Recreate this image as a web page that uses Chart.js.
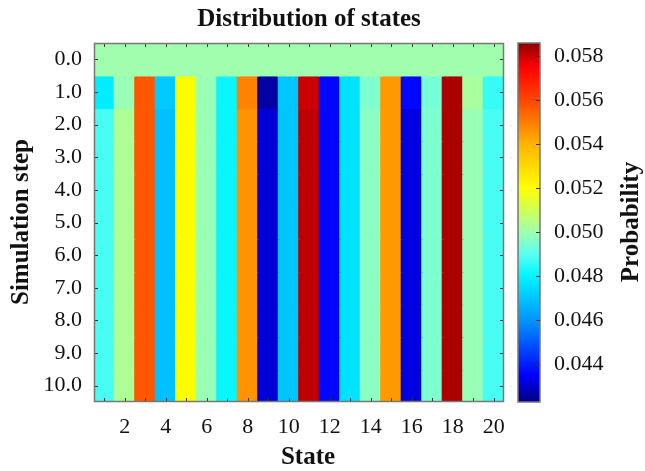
<!DOCTYPE html>
<html>
<head>
<meta charset="utf-8">
<script src="https://cdn.jsdelivr.net/npm/chart.js@4.4.1/dist/chart.umd.min.js"></script>
<style>
html, body { margin: 0; padding: 0; background: #fff; }
#wrap { position: relative; width: 645px; height: 471px; }
</style>
</head>
<body>
<div id="wrap"><canvas id="heat" width="645" height="471"></canvas></div>
<script>
// states on x, simulation steps on y
const states = ['1','2','3','4','5','6','7','8','9','10','11','12','13','14','15','16','17','18','19','20'];
const steps = [0, 1, 2, 3, 4, 5, 6, 7, 8, 9, 10];

// probability of each state, one array per step
const step0 = [0.0500,0.0500,0.0500,0.0500,0.0500,0.0500,0.0500,0.0500,0.0500,0.0500,0.0500,0.0500,0.0500,0.0500,0.0500,0.0500,0.0500,0.0500,0.0500,0.0500];
const step1 = [0.0478,0.0499,0.0557,0.0471,0.0521,0.0499,0.0481,0.0549,0.0426,0.0470,0.0580,0.0436,0.0476,0.0495,0.0545,0.0436,0.0494,0.0583,0.0502,0.0486];
const stepLate = [0.0488,0.0503,0.0557,0.0469,0.0521,0.0499,0.0481,0.0546,0.0431,0.0470,0.0581,0.0436,0.0476,0.0497,0.0545,0.0432,0.0495,0.0583,0.0499,0.0488];
const rows = [step0, step1, stepLate, stepLate, stepLate, stepLate, stepLate, stepLate, stepLate, stepLate, stepLate];

// colour bar range and labels
const cbMin = 0.04227;
const cbMax = 0.0586;
const cbTicks = [0.044, 0.046, 0.048, 0.050, 0.052, 0.054, 0.056, 0.058];

// colour map stops: value -> rgb
const cmapStops = [
    [0.04227, [0, 0, 130]],
    [0.0435, [0, 0, 255]],
    [0.0460, [0, 150, 255]],
    [0.0480, [0, 245, 255]],
    [0.0490, [90, 255, 240]],
    [0.0500, [160, 255, 175]],
    [0.0520, [255, 255, 0]],
    [0.0540, [255, 180, 0]],
    [0.0560, [255, 70, 0]],
    [0.0575, [255, 0, 0]],
    [0.0586, [140, 0, 0]]
];

function probColor(p) {
    if (p <= cmapStops[0][0]) return rgb(cmapStops[0][1]);
    for (let i = 1; i < cmapStops.length; i++) {
        const [v1, c1] = cmapStops[i];
        const [v0, c0] = cmapStops[i - 1];
        if (p <= v1) {
            const t = (p - v0) / (v1 - v0);
            return rgb([0, 1, 2].map(k => c0[k] + (c1[k] - c0[k]) * t));
        }
    }
    return rgb(cmapStops[cmapStops.length - 1][1]);
}

function rgb(c) {
    return `rgb(${Math.round(c[0])},${Math.round(c[1])},${Math.round(c[2])})`;
}

// axis boxes get fixed sizes and no label overflow padding
function fixBox(size) {
    return function (s) {
        if (s.isHorizontal()) s.height = size; else s.width = size;
        s.paddingTop = 0;
        s.paddingBottom = 0;
        s.paddingLeft = 0;
        s.paddingRight = 0;
    };
}

const serif = 'Liberation Serif, Times New Roman, serif';
const tickFont = { family: serif, size: 22 };

let datasets = [];
rows.forEach((row, s) => {
    datasets.push({
        label: 'step ' + steps[s],
        data: row.map(() => [steps[s] - 0.5, steps[s] + 0.5]),
        backgroundColor: row.map(probColor),
        borderWidth: 0,
        inflateAmount: 0.8,
        barPercentage: 1,
        categoryPercentage: 1,
        grouped: false,
        yAxisID: 'y'
    });
});

// frame, inward ticks, colour bar and titles
const decor = {
    id: 'decor',
    afterDraw(chart) {
        const c = chart.ctx;
        const a = chart.chartArea;
        const x = chart.scales.x;
        const y = chart.scales.y;
        const cb = chart.scales.cb;
        c.save();

        c.strokeStyle = '#333';
        c.lineWidth = 1;
        c.beginPath();
        x.ticks.forEach((t, i) => {
            const px = Math.round(x.getPixelForTick(i)) + 0.5;
            c.moveTo(px, a.bottom); c.lineTo(px, a.bottom - 4);
            c.moveTo(px, a.top); c.lineTo(px, a.top + 4);
        });
        y.ticks.forEach(t => {
            const py = Math.round(y.getPixelForValue(t.value)) + 0.5;
            c.moveTo(a.left, py); c.lineTo(a.left + 4, py);
            c.moveTo(a.right, py); c.lineTo(a.right - 4, py);
        });
        c.stroke();

        c.strokeStyle = '#777';
        c.lineWidth = 1.5;
        c.strokeRect(a.left + 0.5, a.top + 0.5, a.right - a.left - 1, a.bottom - a.top - 1);

        // colour bar
        const bx = a.right + 14;
        const bw = 22;
        const yLo = cb.getPixelForValue(cbMin);
        const yHi = cb.getPixelForValue(cbMax);
        const grad = c.createLinearGradient(0, yLo, 0, yHi);
        cmapStops.forEach(([v, col]) => {
            grad.addColorStop((v - cbMin) / (cbMax - cbMin), rgb(col));
        });
        c.fillStyle = grad;
        c.fillRect(bx, yHi, bw, yLo - yHi);
        c.strokeStyle = '#777';
        c.lineWidth = 1.5;
        c.strokeRect(bx, yHi, bw, yLo - yHi);
        c.strokeStyle = '#333';
        c.lineWidth = 1;
        c.beginPath();
        cbTicks.forEach(v => {
            const py = Math.round(cb.getPixelForValue(v)) + 0.5;
            c.moveTo(bx + bw, py); c.lineTo(bx + bw - 4, py);
        });
        c.stroke();

        // titles
        c.fillStyle = '#111';
        c.textAlign = 'center';
        c.textBaseline = 'middle';
        c.font = `bold 25px ${serif}`;
        c.fillText('Distribution of states', 309, 20);
        c.fillText('State', 308, 458);
        c.translate(22, 222);
        c.rotate(-Math.PI / 2);
        c.fillText('Simulation step', 0, 0);
        c.setTransform(1, 0, 0, 1, 0, 0);
        c.translate(632, 222);
        c.rotate(-Math.PI / 2);
        c.fillText('Probability', 0, 0);
        c.restore();
    }
};

const ctx = document.getElementById('heat').getContext('2d');
const heatChart = new Chart(ctx, {
    type: 'bar',
    data: {
        labels: states,
        datasets: datasets
    },
    options: {
        responsive: false,
        animation: false,
        layout: { padding: { top: 43, left: 0, right: 0, bottom: 0 } },
        plugins: {
            legend: { display: false },
            tooltip: { enabled: false }
        },
        scales: {
            x: {
                type: 'category',
                offset: true,
                grid: { display: false, drawTicks: false },
                border: { display: false },
                ticks: {
                    autoSkip: false,
                    maxRotation: 0,
                    padding: 12,
                    color: '#111',
                    font: tickFont,
                    callback: (v, i) => (Number(states[i]) % 2 === 0 ? states[i] : '')
                },
                afterFit: fixBox(69)
            },
            y: {
                type: 'linear',
                reverse: true,
                min: -0.5,
                max: 10.5,
                grid: { display: false, drawTicks: false },
                border: { display: false },
                afterBuildTicks(s) { s.ticks = steps.map(v => ({ value: v })); },
                ticks: {
                    padding: 12,
                    color: '#111',
                    font: tickFont,
                    callback: v => Number(v).toFixed(1)
                },
                afterFit: fixBox(94)
            },
            cb: {
                type: 'linear',
                position: 'right',
                min: cbMin,
                max: cbMax,
                grid: { display: false, drawTicks: false },
                border: { display: false },
                afterBuildTicks(s) { s.ticks = cbTicks.map(v => ({ value: v })); },
                ticks: {
                    padding: 50,
                    color: '#111',
                    font: tickFont,
                    callback: v => Number(v).toFixed(3)
                },
                afterFit: fixBox(141)
            }
        }
    },
    plugins: [decor]
});
</script>
</body>
</html>
